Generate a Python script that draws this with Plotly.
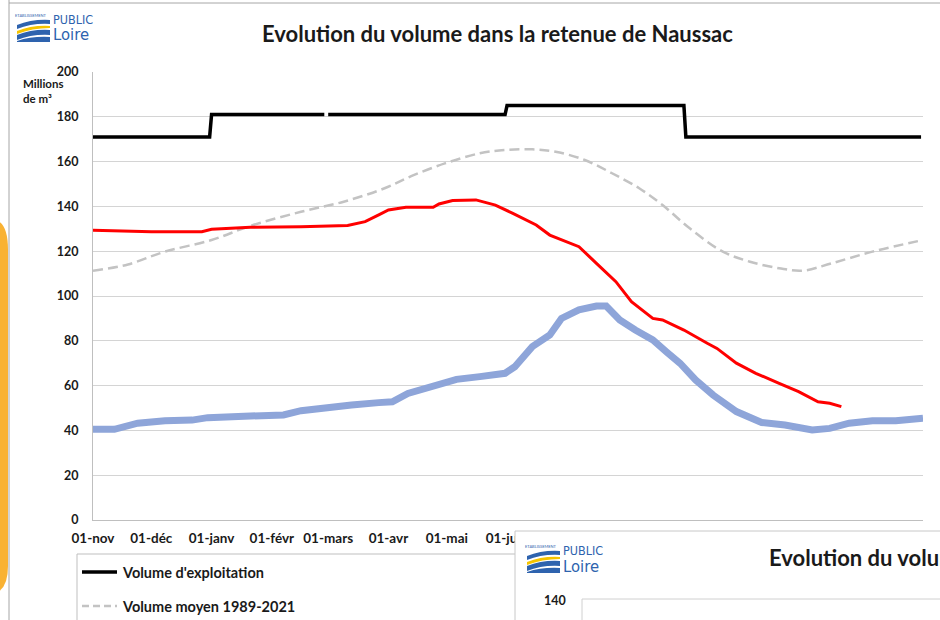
import plotly.graph_objects as go

# ---------------- data ----------------
month_ticks = ["2023-11-01", "2023-12-01", "2024-01-01", "2024-02-01", "2024-03-01",
               "2024-04-01", "2024-05-01", "2024-06-01"]
month_labels = ["01-nov", "01-déc", "01-janv", "01-févr", "01-mars", "01-avr", "01-mai", "01-juin"]
y_ticks = [0, 20, 40, 60, 80, 100, 120, 140, 160, 180, 200]

exploit_dates = ["2023-11-01", "2023-12-31", "2024-01-01", "2024-02-28", "2024-02-29",
                 "2024-03-01", "2024-05-31", "2024-06-01", "2024-08-31", "2024-09-01", "2024-12-31"]
exploit_values = [171, 171, 181, 181, None, 181, 181, 185, 185, 171, 171]

mean_dates = ["2023-11-01", "2023-11-19", "2023-12-08", "2024-01-01", "2024-01-21", "2024-02-16",
              "2024-03-09", "2024-03-30", "2024-04-13", "2024-04-30", "2024-05-18", "2024-05-31",
              "2024-06-14", "2024-06-26", "2024-07-11", "2024-07-25", "2024-08-08", "2024-08-20",
              "2024-09-03", "2024-09-20", "2024-10-04", "2024-10-19", "2024-10-31", "2024-11-15",
              "2024-12-06", "2025-01-01"]
mean_values = [111.3, 114.1, 119.8, 125.0, 131.3, 137.6, 142.1, 148.1, 153.6, 159.2, 163.7, 165.2,
               165.5, 164.4, 160.7, 154.8, 148.1, 140.6, 130.2, 119.8, 115.3, 112.4, 111.3, 114.6,
               119.8, 125.0]

red_dates = ["2023-11-01", "2023-12-01", "2023-12-27", "2024-01-01", "2024-01-21", "2024-02-16",
             "2024-03-11", "2024-03-20", "2024-03-27", "2024-04-01", "2024-04-10", "2024-04-24",
             "2024-04-27", "2024-05-04", "2024-05-16", "2024-05-26", "2024-06-04", "2024-06-16",
             "2024-06-23", "2024-07-08", "2024-07-17", "2024-07-27", "2024-08-04", "2024-08-15",
             "2024-08-20", "2024-08-31", "2024-09-12", "2024-09-17", "2024-09-27", "2024-10-07",
             "2024-10-19", "2024-10-29", "2024-11-08", "2024-11-14", "2024-11-20"]
red_values = [129.3, 128.7, 128.7, 129.8, 130.7, 130.9, 131.5, 133.2, 136.2, 138.4, 139.6, 139.6,
              141.1, 142.6, 142.9, 140.6, 136.9, 131.7, 127.2, 122.0, 114.6, 106.4, 97.5, 90.0,
              89.3, 84.8, 78.9, 76.6, 70.0, 65.5, 61.0, 57.3, 52.8, 52.1, 50.6]

blue_dates = ["2023-11-01", "2023-11-12", "2023-11-24", "2023-12-08", "2023-12-22", "2023-12-30",
              "2024-01-21", "2024-02-07", "2024-02-16", "2024-02-28", "2024-03-13", "2024-03-27",
              "2024-04-03", "2024-04-11", "2024-04-22", "2024-05-06", "2024-05-18", "2024-05-31",
              "2024-06-05", "2024-06-14", "2024-06-23", "2024-06-29", "2024-07-08", "2024-07-17",
              "2024-07-22", "2024-07-29", "2024-08-06", "2024-08-15", "2024-08-22", "2024-08-29",
              "2024-09-06", "2024-09-15", "2024-09-27", "2024-10-10", "2024-10-22", "2024-11-05",
              "2024-11-14", "2024-11-24", "2024-12-06", "2024-12-18", "2025-01-01"]
blue_values = [40.5, 40.5, 43.2, 44.3, 44.6, 45.7, 46.4, 46.9, 48.8, 50.3, 51.3, 52.4, 52.8, 56.5,
               59.5, 62.8, 64.0, 65.5, 68.4, 77.4, 82.6, 90.0, 93.8, 95.5, 95.5, 89.3, 84.8, 80.4,
               75.1, 70.0, 62.5, 55.8, 48.4, 43.5, 42.4, 40.2, 40.9, 43.2, 44.3, 44.3, 45.4]

legend_labels = ["Volume d'exploitation", "Volume moyen 1989-2021"]
title_text = "Evolution du volume dans la retenue de Naussac"

# ---------------- layout helpers (pixel -> paper) ----------------
W, H = 940, 620
L, R, T, B = 93, 923, 72, 520
FONT = "Lato, 'Open Sans', sans-serif"
LOGO_FONT = "'DejaVu Sans Condensed', 'Liberation Sans Narrow', Lato, sans-serif"
TXT = "#1A1A1A"
BLUE_LOGO = "#2E63AE"


def px(x):
    return (x - L) / (R - L)


def py(y):
    return (B - y) / (B - T)


def path(cmds):
    out = []
    for c in cmds:
        if isinstance(c, str):
            out.append(c)
        else:
            out.append(f"{px(c[0]):.5f},{py(c[1]):.5f}")
    return " ".join(out)


fig = go.Figure()

fig.add_trace(go.Scatter(x=blue_dates, y=blue_values, mode="lines",
                         line=dict(color="#8EA5D9", width=7), showlegend=False))
fig.add_trace(go.Scatter(x=mean_dates, y=mean_values, mode="lines",
                         line=dict(color="#C3C3C3", width=2.5, dash="10px,5px", shape="spline"),
                         showlegend=False))
fig.add_trace(go.Scatter(x=red_dates, y=red_values, mode="lines",
                         line=dict(color="#FF0000", width=3), showlegend=False))
fig.add_trace(go.Scatter(x=exploit_dates, y=exploit_values, mode="lines",
                         line=dict(color="#000000", width=3.5), connectgaps=False, showlegend=False))

shapes = []
# window frame
shapes.append(dict(type="line", xref="paper", yref="paper", x0=px(9), x1=px(9), y0=py(0), y1=py(625),
                   line=dict(color="#A6A6A6", width=1)))
shapes.append(dict(type="line", xref="paper", yref="paper", x0=px(9), x1=px(945), y0=py(3), y1=py(3),
                   line=dict(color="#A6A6A6", width=1)))
# orange tab on the left
shapes.append(dict(type="path", xref="paper", yref="paper",
                   path=path(["M", (-2, 221), "Q", (8, 226), (8, 250), "L", (8, 566),
                              "Q", (8, 586), (-2, 592), "Z"]),
                   fillcolor="#F9B233", line=dict(width=0)))


def logo(ox, oy):
    s = []
    bands = [
        (["M", (ox, oy + 7), "Q", (ox + 15, oy + 1), (ox + 33, oy + 2), "L", (ox + 33, oy + 6),
          "Q", (ox + 15, oy + 5), (ox, oy + 11), "Z"], BLUE_LOGO),
        (["M", (ox, oy + 13), "Q", (ox + 15, oy + 7), (ox + 33, oy + 8), "L", (ox + 33, oy + 10),
          "Q", (ox + 15, oy + 10), (ox, oy + 16), "Z"], "#F5C400"),
        (["M", (ox, oy + 17), "Q", (ox + 15, oy + 11), (ox + 33, oy + 12), "L", (ox + 33, oy + 17),
          "Q", (ox + 15, oy + 16), (ox, oy + 22), "Z"], BLUE_LOGO),
        (["M", (ox, oy + 23), "Q", (ox + 15, oy + 18), (ox + 33, oy + 19), "L", (ox + 33, oy + 24),
          "L", (ox, oy + 24), "Z"], BLUE_LOGO),
    ]
    for cmds, col in bands:
        s.append(dict(type="path", xref="paper", yref="paper", path=path(cmds),
                      fillcolor=col, line=dict(width=0)))
    return s


def logo_text(ox, oy):
    a = []
    a.append(dict(x=px(ox + 32), y=py(oy - 3), xref="paper", yref="paper", text="ETABLISSEMENT",
                  showarrow=False, xanchor="right", yanchor="middle",
                  font=dict(family=FONT, size=4, color=BLUE_LOGO)))
    a.append(dict(x=px(ox + 34), y=py(oy + 1), xref="paper", yref="paper", text="PUBLIC",
                  showarrow=False, xanchor="left", yanchor="middle",
                  font=dict(family=LOGO_FONT, size=12.5, color=BLUE_LOGO)))
    a.append(dict(x=px(ox + 34), y=py(oy + 17), xref="paper", yref="paper", text="Loire",
                  showarrow=False, xanchor="left", yanchor="middle",
                  font=dict(family=LOGO_FONT, size=16.5, color=BLUE_LOGO)))
    return a


shapes += logo(17, 18)

# legend box and samples
shapes.append(dict(type="rect", xref="paper", yref="paper", x0=px(77), x1=px(935), y0=py(554), y1=py(630),
                   line=dict(color="#BFBFBF", width=1), fillcolor="rgba(0,0,0,0)"))
shapes.append(dict(type="line", xref="paper", yref="paper", x0=px(82), x1=px(117), y0=py(572), y1=py(572),
                   line=dict(color="#000000", width=3.5)))
shapes.append(dict(type="line", xref="paper", yref="paper", x0=px(82), x1=px(117), y0=py(606), y1=py(606),
                   line=dict(color="#C3C3C3", width=2.5, dash="7px,4px")))

# overlaid second chart window
shapes.append(dict(type="rect", xref="paper", yref="paper", layer="above", x0=px(515), x1=px(950),
                   y0=py(531), y1=py(640), fillcolor="#FFFFFF", line=dict(color="#C8C8C8", width=1)))
shapes.append(dict(type="rect", xref="paper", yref="paper", layer="above", x0=px(582), x1=px(950),
                   y0=py(599), y1=py(640), fillcolor="#FFFFFF", line=dict(color="#D0D0D0", width=1)))
for sh in logo(527, 549):
    sh["layer"] = "above"
    shapes.append(sh)

annotations = []
annotations.append(dict(x=px(497), y=py(33), xref="paper", yref="paper", text=f"<b>{title_text}</b>",
                        showarrow=False, xanchor="center", yanchor="middle",
                        font=dict(family=FONT, size=22, color=TXT)))
annotations.append(dict(x=px(21), y=py(91), xref="paper", yref="paper", text="<b>Millions<br>de m³</b>",
                        showarrow=False, xanchor="left", yanchor="middle", align="left",
                        font=dict(family=FONT, size=11.5, color=TXT)))
annotations.append(dict(x=px(120), y=py(572), xref="paper", yref="paper", text=f"<b>{legend_labels[0]}</b>",
                        showarrow=False, xanchor="left", yanchor="middle",
                        font=dict(family=FONT, size=14.5, color=TXT)))
annotations.append(dict(x=px(120), y=py(606), xref="paper", yref="paper", text=f"<b>{legend_labels[1]}</b>",
                        showarrow=False, xanchor="left", yanchor="middle",
                        font=dict(family=FONT, size=14.5, color=TXT)))
annotations += logo_text(17, 18)
annotations += logo_text(527, 549)
annotations.append(dict(x=px(767), y=py(557), xref="paper", yref="paper", text=f"<b>{title_text}</b>",
                        showarrow=False, xanchor="left", yanchor="middle",
                        font=dict(family=FONT, size=22, color=TXT)))
annotations.append(dict(x=px(568), y=py(600), xref="paper", yref="paper", text="<b>140</b>",
                        showarrow=False, xanchor="right", yanchor="middle",
                        font=dict(family=FONT, size=12.5, color=TXT)))

fig.update_layout(
    width=W, height=H,
    margin=dict(l=L, r=W - R, t=T, b=H - B, pad=0),
    paper_bgcolor="#FFFFFF", plot_bgcolor="#FFFFFF",
    showlegend=False,
    shapes=shapes, annotations=annotations,
    font=dict(family=FONT),
)
fig.update_xaxes(type="date", range=["2023-11-01", "2025-01-01"], tickvals=month_ticks, ticktext=month_labels,
                 showgrid=False, showline=True, linecolor="#BFBFBF", linewidth=1, ticks="",
                 tickfont=dict(family=FONT, size=13.5, color=TXT, weight="bold"),
                 ticklabelstandoff=6, zeroline=False)
fig.update_yaxes(range=[0, 200], tickvals=y_ticks, showgrid=True, gridcolor="#D4D4D4", gridwidth=1,
                 showline=True, linecolor="#BFBFBF", linewidth=1, ticks="", zeroline=False,
                 tickfont=dict(family=FONT, size=12.5, color=TXT, weight="bold"),
                 ticklabelstandoff=11)

fig.write_html("out.html", config={"displayModeBar": False},
               post_script="document.body.style.margin='0';document.body.style.overflow='hidden';")
